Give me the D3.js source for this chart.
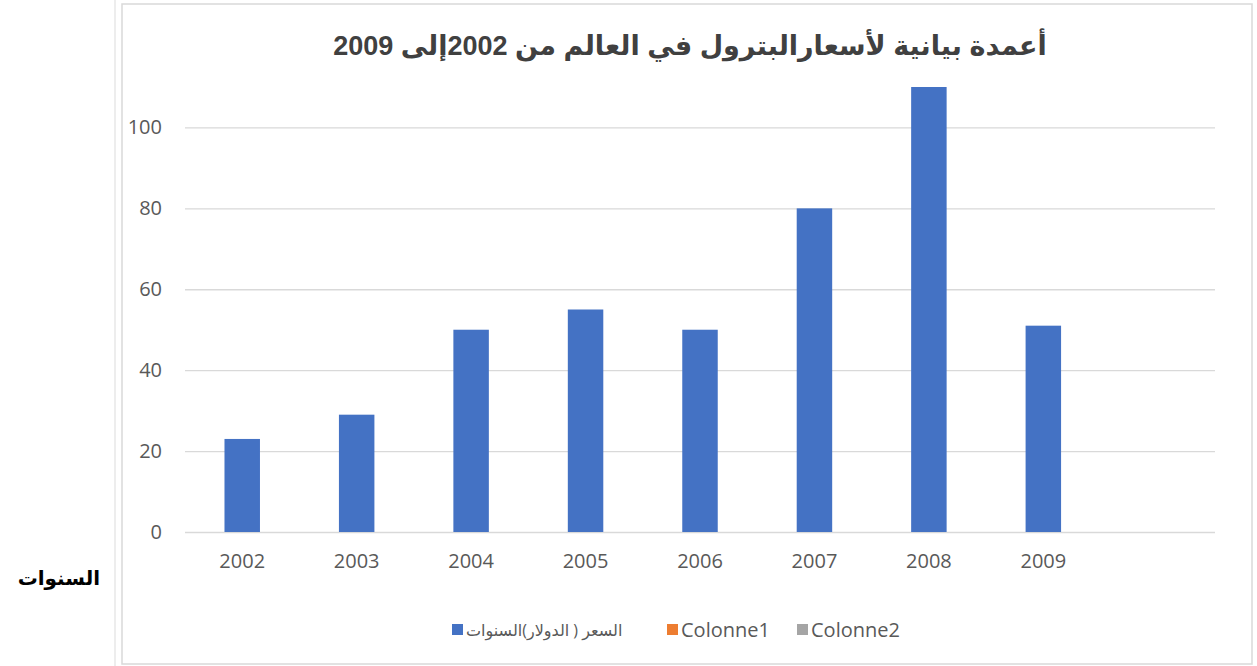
<!DOCTYPE html>
<html>
<head>
<meta charset="utf-8">
<script src="https://cdn.jsdelivr.net/npm/d3@7"></script>
<style>
    body { margin: 0; background: #ffffff; }
    svg { display: block; }
    text { font-family: 'Open Sans', 'DejaVu Sans', sans-serif; }
</style>
</head>
<body>
<svg id="canvas" width="1257" height="666"></svg>
<script>
// data
let years = ['2002', '2003', '2004', '2005', '2006', '2007', '2008', '2009', '']
let prices = [23, 29, 50, 55, 50, 80, 110, 51, null]
let yTicks = [0, 20, 40, 60, 80, 100]

let chartTitle = 'أعمدة بيانية لأسعارالبترول في العالم من 2002إلى 2009'
let sideLabel = 'السنوات'
let legendNames = ['السعر ( الدولار)السنوات', 'Colonne1', 'Colonne2']
let legendColors = ['#4472c4', '#ed7d31', '#a5a5a5']

let canvas = d3.select('#canvas')

let xScale = d3.scaleBand()
                .domain(years)
                .range([185, 1215])
                .paddingInner(0.69)
                .paddingOuter(0.345)

let yScale = d3.scaleLinear()
                .domain([0, 110])
                .range([532, 87])

let drawChart = () => {

    // page edge + chart frame
    canvas.append('line')
            .attr('x1', 115).attr('x2', 115)
            .attr('y1', 0).attr('y2', 666)
            .attr('stroke', '#ededed')
            .attr('stroke-width', 2)

    canvas.append('rect')
            .attr('x', 122)
            .attr('y', 4)
            .attr('width', 1130)
            .attr('height', 660)
            .attr('fill', '#ffffff')
            .attr('stroke', '#d9d9d9')
            .attr('stroke-width', 1.5)

    canvas.append('text')
            .text(chartTitle)
            .attr('x', 690)
            .attr('y', 55)
            .attr('text-anchor', 'middle')
            .attr('direction', 'rtl')
            .style('font-family', "'Liberation Sans', 'DejaVu Sans', sans-serif")
            .style('font-weight', 'bold')
            .style('font-size', '27px')
            .attr('fill', '#404040')

    // y axis: gridlines + labels
    let yAxis = d3.axisLeft(yScale)
                    .tickValues(yTicks)
                    .tickSize(-(1215 - 185))
                    .tickPadding(23)
                    .tickFormat(d3.format('d'))

    let yGroup = canvas.append('g')
            .attr('transform', 'translate(185, 0)')
            .call(yAxis)

    yGroup.select('.domain').remove()
    yGroup.selectAll('.tick line')
            .attr('stroke', '#d9d9d9')
            .attr('stroke-width', 1.3)
    yGroup.selectAll('.tick text')
            .attr('fill', '#595959')
            .style('font-size', '20px')
            .style('font-family', "'Open Sans', sans-serif")

    // x axis labels
    let xAxis = d3.axisBottom(xScale)
                    .tickSize(0)
                    .tickPadding(22)

    let xGroup = canvas.append('g')
            .attr('transform', 'translate(0, 532)')
            .call(xAxis)

    xGroup.select('.domain').remove()
    xGroup.selectAll('.tick text')
            .attr('fill', '#595959')
            .style('font-size', '20px')
            .style('font-family', "'Open Sans', sans-serif")

    // bars
    let rows = years.map((year, i) => {
        return {year: year, price: prices[i]}
    }).filter((row) => {
        return row['price'] !== null
    })

    canvas.selectAll('.bar')
            .data(rows)
            .enter()
            .append('rect')
            .attr('class', 'bar')
            .attr('x', (row) => {
                return xScale(row['year'])
            })
            .attr('y', (row) => {
                return yScale(row['price'])
            })
            .attr('width', xScale.bandwidth())
            .attr('height', (row) => {
                return yScale(0) - yScale(row['price'])
            })
            .attr('fill', legendColors[0])

    // legend
    let legendX = [452, 667, 797]
    let legend = canvas.selectAll('.legend')
            .data(legendNames)
            .enter()
            .append('g')
            .attr('class', 'legend')
            .attr('transform', (name, i) => {
                return 'translate(' + legendX[i] + ', 630)'
            })

    legend.append('rect')
            .attr('x', 0)
            .attr('y', -6)
            .attr('width', 11)
            .attr('height', 11)
            .attr('fill', (name, i) => {
                return legendColors[i]
            })

    legend.append('text')
            .text((name) => {
                return name
            })
            .attr('x', 14)
            .attr('y', 0)
            .attr('dy', '0.35em')
            .attr('direction', (name, i) => {
                return i === 0 ? 'rtl' : 'ltr'
            })
            .attr('text-anchor', (name, i) => {
                return i === 0 ? 'end' : 'start'
            })
            .attr('fill', '#595959')
            .style('font-size', (name, i) => {
                return i === 0 ? '16px' : '20px'
            })

    // label outside the frame
    canvas.append('text')
            .text(sideLabel)
            .attr('x', 100)
            .attr('y', 585)
            .attr('direction', 'rtl')
            .attr('text-anchor', 'start')
            .style('font-family', "'DejaVu Sans', sans-serif")
            .style('font-weight', 'bold')
            .style('font-size', '20px')
            .attr('fill', '#000000')
}

drawChart()
</script>
</body>
</html>
